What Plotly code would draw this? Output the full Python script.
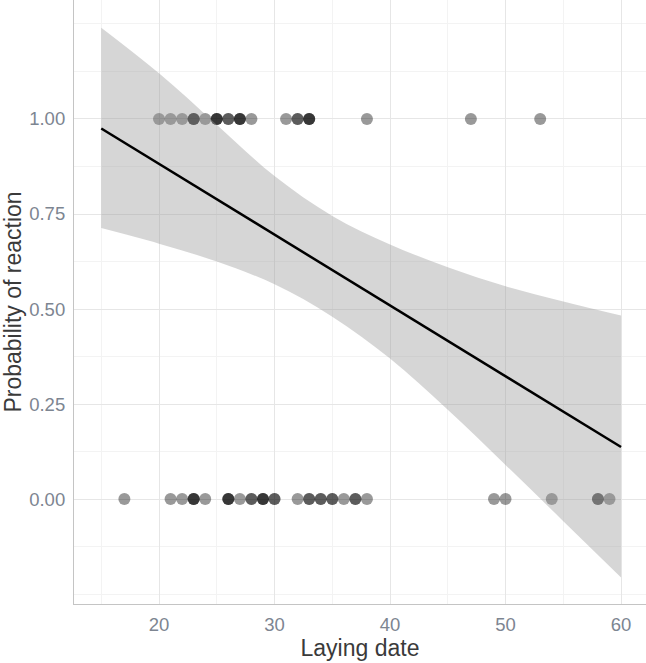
import plotly.graph_objects as go

# Laying dates of nests that reacted (1) and did not react (0)
react_dates = [20, 21, 22, 23, 23, 23, 24, 25, 25, 25, 26, 26, 27, 27, 27, 28,
               31, 32, 32, 33, 33, 33, 38, 47, 53]
noreact_dates = [17, 21, 22, 23, 23, 23, 24, 26, 26, 26, 27, 28, 28, 29, 29, 29,
                 30, 30, 32, 33, 33, 34, 34, 35, 35, 36, 37, 37, 38, 49, 50, 54,
                 58, 58, 59]

# Fitted line and confidence band
fit_x = [15, 60]
fit_y = [0.975, 0.137]
band_x = [15, 20, 25, 30, 35, 40, 45, 50, 55, 60]
band_upper = [1.24, 1.12, 0.985, 0.85, 0.745, 0.67, 0.61, 0.56, 0.52, 0.483]
band_lower = [0.713, 0.672, 0.625, 0.565, 0.48, 0.37, 0.235, 0.09, -0.058, -0.206]

x_ticks = [20, 30, 40, 50, 60]
y_ticks = [0.0, 0.25, 0.5, 0.75, 1.0]
y_labels = ["0.00", "0.25", "0.50", "0.75", "1.00"]

fig = go.Figure()

pts_x = react_dates + noreact_dates
pts_y = [1] * len(react_dates) + [0] * len(noreact_dates)
fig.add_trace(go.Scatter(
    x=pts_x, y=pts_y, mode="markers",
    marker=dict(size=12, color="rgba(0,0,0,0.4)", line=dict(width=0)),
    hoverinfo="skip", showlegend=False))

fig.add_trace(go.Scatter(
    x=band_x, y=band_lower, mode="lines", line=dict(width=0, shape="spline"),
    hoverinfo="skip", showlegend=False))
fig.add_trace(go.Scatter(
    x=band_x, y=band_upper, mode="lines", line=dict(width=0, shape="spline"),
    fill="tonexty", fillcolor="rgba(153,153,153,0.4)",
    hoverinfo="skip", showlegend=False))

fig.add_trace(go.Scatter(
    x=fit_x, y=fit_y, mode="lines", line=dict(color="black", width=2.5),
    hoverinfo="skip", showlegend=False))

font = "Liberation Sans, Arial, sans-serif"
fig.update_layout(
    width=646, height=663,
    margin=dict(l=74, r=0, t=0, b=59),
    paper_bgcolor="white", plot_bgcolor="white",
    font=dict(family=font),
    xaxis=dict(
        range=[12.64, 62.16], tickmode="array", tickvals=x_ticks,
        ticktext=[str(v) for v in x_ticks],
        showgrid=True, gridcolor="#e6e6e6", gridwidth=1.3,
        minor=dict(dtick=5, tick0=0, showgrid=True, gridcolor="#f3f3f3", gridwidth=0.8),
        showline=True, linecolor="#c4c4c4", linewidth=1.2,
        zeroline=False, ticks="", ticklabelstandoff=4,
        tickfont=dict(size=18.5, color="#7d8591"),
        title=dict(text="Laying date", font=dict(size=23, color="#3a3a3a"), standoff=5),
    ),
    yaxis=dict(
        range=[-0.276, 1.313], tickmode="array", tickvals=y_ticks, ticktext=y_labels,
        showgrid=True, gridcolor="#e6e6e6", gridwidth=1.3,
        minor=dict(dtick=0.125, tick0=0, showgrid=True, gridcolor="#f3f3f3", gridwidth=0.8),
        showline=True, linecolor="#c4c4c4", linewidth=1.2,
        zeroline=False, ticks="", ticklabelstandoff=4,
        tickfont=dict(size=18.5, color="#7d8591"),
        title=dict(text="Probability of reaction", font=dict(size=23, color="#3a3a3a"), standoff=4),
    ),
)

fig.write_html("out.html")
